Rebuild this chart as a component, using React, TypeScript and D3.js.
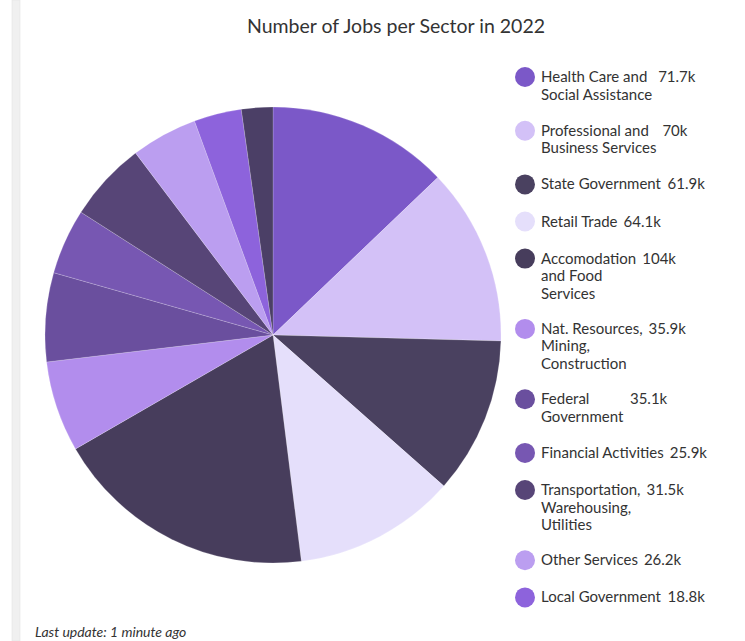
import React, { useEffect, useRef } from "react";
import * as d3 from "d3";

const categories = [
  "Health Care and\nSocial Assistance",
  "Professional and\nBusiness Services",
  "State Government",
  "Retail Trade",
  "Accomodation\nand Food\nServices",
  "Nat. Resources,\nMining,\nConstruction",
  "Federal\nGovernment",
  "Financial Activities",
  "Transportation,\nWarehousing,\nUtilities",
  "Other Services",
  "Local Government",
  "Information",
];
const values = [71.7, 70, 61.9, 64.1, 104, 35.9, 35.1, 25.9, 31.5, 26.2, 18.8, 12.4];
const legendCount = 11;
const colors = [
  "#7b58c8",
  "#d3c1f7",
  "#4a4160",
  "#e5dffb",
  "#473d5c",
  "#b28ded",
  "#6a4f9e",
  "#7757b2",
  "#574577",
  "#bb9ef0",
  "#8d63dc",
  "#4b3f66",
];
const title = "Number of Jobs per Sector in 2022";
const footer = "Last update: 1 minute ago";

const W = 745;
const H = 641;
const FONT = "Lato, 'Noto Sans', sans-serif";

export default function App() {
  const ref = useRef<SVGSVGElement | null>(null);

  useEffect(() => {
    const svg = d3.select(ref.current);
    svg.selectAll("*").remove();

    // left gray bar
    svg.append("rect").attr("x", 12).attr("y", 0).attr("width", 8).attr("height", H)
      .attr("fill", "#f0f0f0").attr("stroke", "#e4e4e4").attr("stroke-width", 0.6);

    svg.append("text").attr("x", 396).attr("y", 33).attr("text-anchor", "middle")
      .attr("font-family", FONT).attr("font-size", 19.5).attr("fill", "#333")
      .text(title);

    const cx = 273, cy = 335, r = 228;
    const data = categories.map((c, i) => ({ c, v: values[i], color: colors[i] }));
    const pie = d3.pie<any>().value((d) => d.v).sort(null);
    const arc = d3.arc<any>().innerRadius(0).outerRadius(r);
    const g = svg.append("g").attr("transform", `translate(${cx},${cy})`);
    g.selectAll("path").data(pie(data)).enter().append("path")
      .attr("d", arc as any)
      .attr("fill", (d: any) => d.data.color)
      .attr("stroke", "#ffffff").attr("stroke-opacity", 0.3).attr("stroke-width", 0.6);

    // legend
    const lx = 525, tx = 541, fs = 15;
    let y = 77;
    data.slice(0, legendCount).forEach((d) => {
      const lines = d.c.split("\n");
      const lg = svg.append("g");
      lg.append("circle").attr("cx", lx).attr("cy", y).attr("r", 10).attr("fill", d.color);
      const t = lg.append("text").attr("font-family", FONT).attr("font-size", fs).attr("fill", "#333");
      lines.forEach((ln: string, k: number) => {
        t.append("tspan").attr("x", tx).attr("y", y + 5 + k * 17.5).text(ln);
      });
      const bw = (t.node() as SVGTextElement).getBBox().width;
      lg.append("text").attr("font-family", FONT).attr("font-size", fs).attr("fill", "#333")
        .attr("x", tx + bw + 6).attr("y", y + 5).text(`${d.v}k`);
      y += 20.5 + 16.6 * lines.length;
    });

    svg.append("text").attr("x", 35).attr("y", 637).attr("font-family", FONT)
      .attr("font-size", 14).attr("font-style", "italic").attr("fill", "#333").text(footer);
  }, []);

  return (
    <svg ref={ref} width={W} height={H}
      style={{ position: "absolute", left: 0, top: 0, background: "#fff" }} />
  );
}
